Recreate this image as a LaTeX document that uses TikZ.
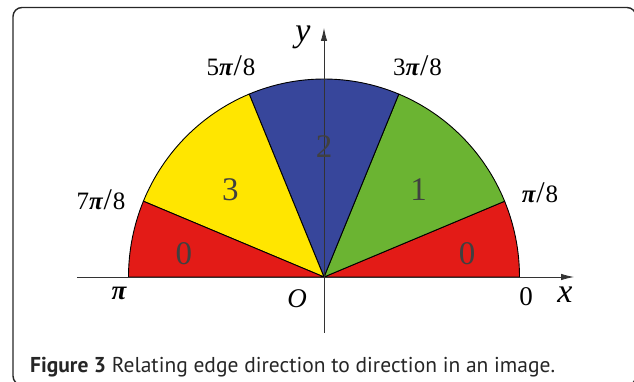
\documentclass[tikz,border=0pt]{standalone}
\usepackage{fontspec}
\setmainfont{Liberation Serif}
\newfontfamily\captionfont{PT Sans}
\usetikzlibrary{arrows.meta}
\definecolor{sectred}{RGB}{227,27,23}
\definecolor{sectyellow}{RGB}{255,230,0}
\definecolor{sectblue}{RGB}{55,70,155}
\definecolor{sectgreen}{RGB}{107,180,50}
\tikzset{
  sector/.style={draw=black, line width=0.9pt, line join=round},
  axisline/.style={-{Latex[length=13pt,width=6.5pt]}, line width=0.8pt, black!80},
  anglelabel/.style={font=\fontsize{25}{27}\selectfont, inner sep=0pt},
  axislabel/.style={font=\fontsize{27}{29}\selectfont, inner sep=0pt},
  axisname/.style={font=\fontsize{34}{36}\selectfont\itshape, inner sep=0pt},
  zonelabel/.style={font=\fontsize{33}{35}\selectfont, inner sep=0pt, text=black!75},
  framebox/.style={draw=black!85, line width=1.4pt, rounded corners=9pt},
  captiontext/.style={font=\captionfont\fontsize{21.5}{23}\selectfont, text=black!85, inner sep=0pt, anchor=base west}
}
\newcommand{\bpi}{{\bfseries\itshape π}}
\newcommand{\frslash}{\kern1pt{\fontsize{30}{30}\selectfont/}\kern1pt}

\begin{document}
\begin{tikzpicture}[x=1pt, y=1pt]
  \useasboundingbox (-324,-105) rectangle (310,277);
  \draw[framebox] (-311,-108) rectangle (312,269.5);
  % sectors of the half ellipse
  \def\rx{195.5}
  \def\ry{198}
  \foreach \a/\b/\c in {0/22.5/sectred, 22.5/67.5/sectgreen, 67.5/112.5/sectblue, 112.5/157.5/sectyellow, 157.5/180/sectred}
    \filldraw[sector, fill=\c] (0,0) -- (\a:\rx pt and \ry pt) arc[start angle=\a, end angle=\b, x radius=\rx, y radius=\ry] -- cycle;
  % axes
  \coordinate (O) at (0,0);
  \coordinate (xstart) at (-247,0);
  \coordinate (xend) at (250,0);
  \coordinate (ystart) at (0,-56);
  \coordinate (yend) at (0,249);
  \draw[axisline] (xstart) -- (xend);
  \draw[axisline] (ystart) -- (yend);
  % zone numbers
  \node[zonelabel] (zoneA) at (143,23) {0};
  \node[zonelabel] (zoneB) at (94.5,87) {1};
  \node[zonelabel] (zoneC) at (0,130) {2};
  \node[zonelabel] (zoneD) at (-93.5,87) {3};
  \node[zonelabel] (zoneE) at (-140,23) {0};
  % angle labels
  \node[axisname] (lblY) at (-21,240) {y};
  \node[anglelabel] (lblFive) at (-93,211) {5\bpi\frslash 8};
  \node[anglelabel] (lblThree) at (93.5,211) {3\bpi\frslash 8};
  \node[anglelabel] (lblSeven) at (-223,77) {7\bpi\frslash 8};
  \node[anglelabel] (lblOne) at (216,84) {\bpi\frslash 8};
  \node[axislabel] (lblPi) at (-205,-16) {\bpi};
  \node[axislabel] (lblO) at (-27,-22) {\textit{O}};
  \node[axislabel] (lblZero) at (202,-20) {0};
  \node[axisname] (lblX) at (241,-18) {x};
  % caption
  \node[captiontext] (caption) at (-294,-96) {\textbf{Figure 3} Relating edge direction to direction in an image.};
\end{tikzpicture}
\end{document}
